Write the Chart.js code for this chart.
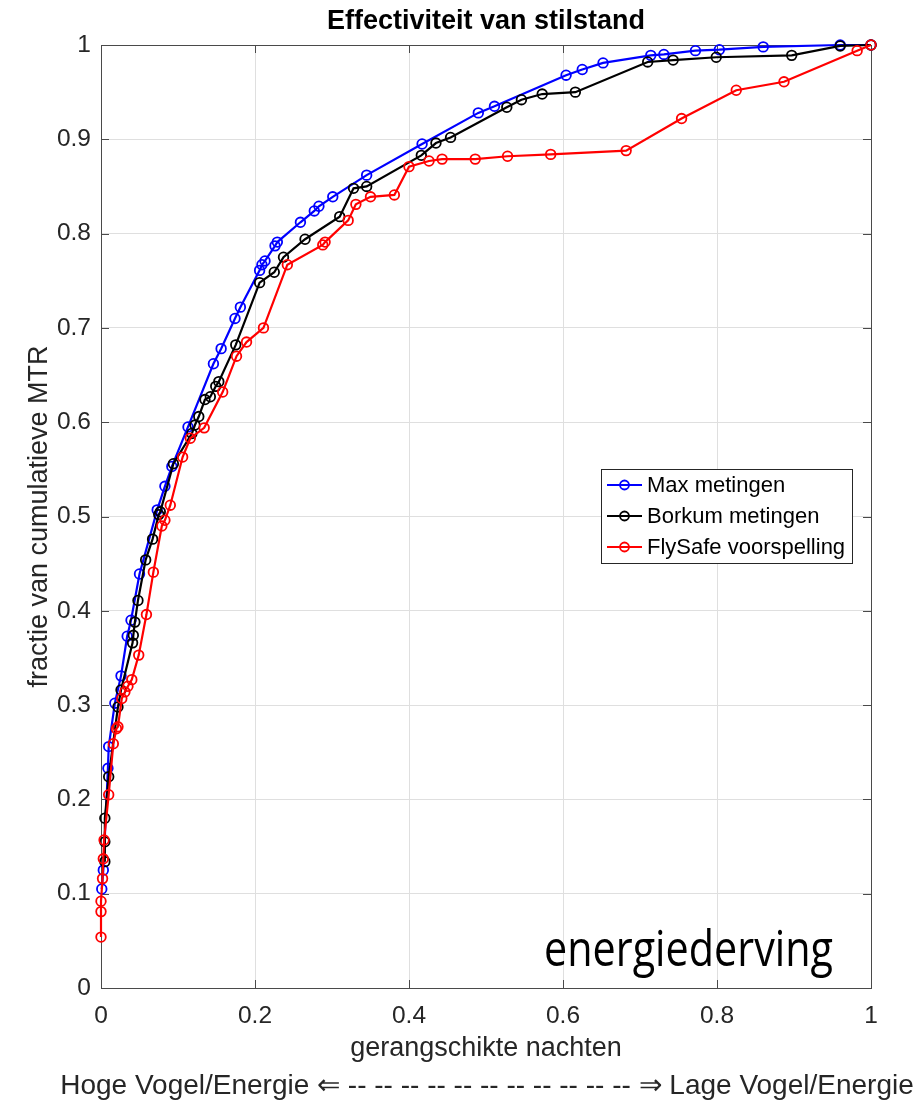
<!DOCTYPE html>
<html>
<head>
<meta charset="utf-8">
<script src="https://cdn.jsdelivr.net/npm/chart.js@4.4.1/dist/chart.umd.min.js"></script>
<style>
    html, body { margin: 0; padding: 0; background: #fff; }
    #wrap { width: 920px; height: 1100px; }
</style>
</head>
<body>
<div id="wrap"><canvas id="chart" width="920" height="1100"></canvas></div>
<script>
// tick labels
const xTicks = [0, 0.2, 0.4, 0.6, 0.8, 1];
const yTicks = [0, 0.1, 0.2, 0.3, 0.4, 0.5, 0.6, 0.7, 0.8, 0.9, 1];

const seriesNames = ['Max metingen', 'Borkum metingen', 'FlySafe voorspelling'];

// Max metingen
const maxX = [0.001, 0.003, 0.009, 0.010, 0.018, 0.026, 0.034, 0.039, 0.050, 0.073, 0.083, 0.092,
    0.113, 0.146, 0.156, 0.174, 0.181, 0.206, 0.209, 0.213, 0.226, 0.229, 0.259, 0.277, 0.283,
    0.301, 0.345, 0.417, 0.490, 0.511, 0.604, 0.625, 0.652, 0.714, 0.731, 0.772, 0.803, 0.860, 0.960, 1];
const maxY = [0.105, 0.125, 0.233, 0.256, 0.302, 0.331, 0.373, 0.390, 0.439, 0.507, 0.532, 0.553,
    0.595, 0.662, 0.678, 0.710, 0.722, 0.761, 0.767, 0.771, 0.787, 0.791, 0.812, 0.824, 0.829,
    0.839, 0.862, 0.895, 0.928, 0.935, 0.968, 0.974, 0.981, 0.989, 0.990, 0.994, 0.995, 0.998, 1.0, 1];

// Borkum metingen
const borkumX = [0.005, 0.005, 0.005, 0.010, 0.022, 0.026, 0.041, 0.042, 0.044, 0.048, 0.058, 0.067,
    0.075, 0.077, 0.094, 0.118, 0.122, 0.127, 0.135, 0.142, 0.149, 0.153, 0.175, 0.206, 0.225,
    0.237, 0.265, 0.310, 0.328, 0.345, 0.416, 0.435, 0.454, 0.527, 0.546, 0.573, 0.616, 0.710,
    0.743, 0.799, 0.897, 0.960, 1];
const borkumY = [0.134, 0.155, 0.180, 0.224, 0.298, 0.316, 0.366, 0.374, 0.388, 0.411, 0.454, 0.476,
    0.502, 0.505, 0.556, 0.588, 0.597, 0.606, 0.624, 0.627, 0.638, 0.643, 0.682, 0.748, 0.759,
    0.775, 0.794, 0.818, 0.848, 0.850, 0.883, 0.896, 0.902, 0.934, 0.942, 0.948, 0.950, 0.982,
    0.984, 0.987, 0.989, 0.999, 1];

// FlySafe voorspelling
const flyX = [0, 0, 0, 0.002, 0.003, 0.004, 0.010, 0.016, 0.020, 0.022, 0.027, 0.031, 0.035, 0.040,
    0.049, 0.059, 0.068, 0.079, 0.083, 0.090, 0.106, 0.116, 0.134, 0.158, 0.176, 0.189, 0.211,
    0.242, 0.288, 0.291, 0.321, 0.331, 0.350, 0.381, 0.400, 0.426, 0.443, 0.486, 0.528, 0.584,
    0.682, 0.754, 0.825, 0.887, 0.982, 1];
const flyY = [0.054, 0.081, 0.092, 0.116, 0.137, 0.157, 0.205, 0.259, 0.275, 0.277, 0.307, 0.314, 0.320, 0.327,
    0.353, 0.396, 0.441, 0.490, 0.496, 0.512, 0.563, 0.583, 0.594, 0.632, 0.670, 0.685, 0.700,
    0.767, 0.788, 0.791, 0.814, 0.831, 0.839, 0.841, 0.871, 0.877, 0.879, 0.879, 0.882, 0.884,
    0.888, 0.922, 0.952, 0.961, 0.994, 1];

const COLORS = ['#0000ff', '#000000', '#ff0000'];
const FONT = "'Liberation Sans', Arial, Helvetica, sans-serif";
const AXIS_COLOR = '#4a4a4a';
const TEXT_COLOR = '#262626';

Chart.defaults.font.family = FONT;

function toPoints(xs, ys) {
    return xs.map((x, i) => ({ x: x, y: ys[i] }));
}

function lineSet(i, xs, ys) {
    return {
        label: seriesNames[i],
        data: toPoints(xs, ys),
        showLine: true,
        borderColor: COLORS[i],
        backgroundColor: COLORS[i],
        borderWidth: 2.2,
        pointRadius: 4.8,
        pointHoverRadius: 4.8,
        pointBorderWidth: 1.8,
        pointBorderColor: COLORS[i],
        pointBackgroundColor: 'rgba(0,0,0,0)',
        tension: 0,
        clip: false,
        order: 3 - i
    };
}

// box, inward ticks, legend, annotation and the direction line under the x label
const framePlugin = {
    id: 'frame',
    beforeDatasetsDraw(chart) {
        const { ctx, chartArea: a, scales } = chart;
        ctx.save();
        ctx.strokeStyle = AXIS_COLOR;
        ctx.lineWidth = 1;
        ctx.beginPath();
        xTicks.forEach(v => {
            const px = Math.round(scales.x.getPixelForValue(v)) + 0.5;
            ctx.moveTo(px, a.bottom); ctx.lineTo(px, a.bottom - 8);
            ctx.moveTo(px, a.top); ctx.lineTo(px, a.top + 8);
        });
        yTicks.forEach(v => {
            const py = Math.round(scales.y.getPixelForValue(v)) + 0.5;
            ctx.moveTo(a.left, py); ctx.lineTo(a.left + 8, py);
            ctx.moveTo(a.right, py); ctx.lineTo(a.right - 8, py);
        });
        ctx.stroke();
        ctx.strokeRect(Math.round(a.left) + 0.5, Math.round(a.top) + 0.5,
            Math.round(a.right - a.left), Math.round(a.bottom - a.top));
        ctx.restore();
    },
    afterDatasetsDraw(chart) {
        const { ctx, chartArea: a } = chart;
        ctx.save();
        // legend
        const bx = 601, by = 469, bw = 251, bh = 94;
        ctx.fillStyle = '#fff';
        ctx.fillRect(bx, by, bw, bh);
        ctx.strokeStyle = '#262626';
        ctx.lineWidth = 1;
        ctx.strokeRect(bx + 0.5, by + 0.5, bw, bh);
        const rows = [485, 516, 547];
        seriesNames.forEach((name, i) => {
            const y = rows[i];
            ctx.strokeStyle = COLORS[i];
            ctx.lineWidth = 2.2;
            ctx.beginPath();
            ctx.moveTo(607, y); ctx.lineTo(642, y);
            ctx.stroke();
            ctx.lineWidth = 1.8;
            ctx.beginPath();
            ctx.arc(624.5, y, 4.5, 0, Math.PI * 2);
            ctx.stroke();
            ctx.fillStyle = '#000';
            ctx.font = '22px ' + FONT;
            ctx.textBaseline = 'middle';
            ctx.textAlign = 'left';
            ctx.fillText(name, 647, y + 1);
        });

        // direction line below the axis title
        ctx.fillStyle = TEXT_COLOR;
        ctx.font = '28px ' + FONT;
        ctx.textAlign = 'center';
        ctx.textBaseline = 'middle';
        ctx.fillText('Hoge Vogel/Energie \u21D0 -- -- -- -- -- -- -- -- -- -- -- \u21D2 Lage Vogel/Energie',
            (a.left + a.right) / 2 + 1, 1086);

        // annotation
        const label = 'energiederving';
        ctx.font = "50px 'Open Sans', 'Noto Sans', sans-serif";
        ctx.textAlign = 'left';
        ctx.textBaseline = 'alphabetic';
        const w = ctx.measureText(label).width;
        ctx.translate(544, 966);
        ctx.scale(289 / w, 1);
        ctx.fillStyle = '#000';
        ctx.fillText(label, 0, 0);
        ctx.restore();
    }
};

new Chart(document.getElementById('chart').getContext('2d'), {
    type: 'scatter',
    data: {
        datasets: [
            lineSet(0, maxX, maxY),
            lineSet(1, borkumX, borkumY),
            lineSet(2, flyX, flyY)
        ]
    },
    options: {
        responsive: false,
        animation: false,
        layout: { padding: { left: 0, right: 49, top: 0, bottom: 0 } },
        plugins: {
            legend: { display: false },
            tooltip: { enabled: false },
            title: {
                display: true,
                text: 'Effectiviteit van stilstand',
                fullSize: false,
                color: '#000',
                font: { size: 27, weight: 'bold', lineHeight: 1.2 },
                padding: { top: 5.5, bottom: 7.1 }
            }
        },
        scales: {
            x: {
                type: 'linear',
                min: 0,
                max: 1,
                afterBuildTicks: s => { s.ticks = xTicks.map(v => ({ value: v })); },
                afterFit: s => { s.height = 112; },
                grid: { color: '#dfdfdf', lineWidth: 1, drawTicks: false },
                border: { display: false },
                ticks: {
                    callback: v => String(v),
                    padding: 14,
                    color: TEXT_COLOR,
                    font: { size: 24.5 },
                    maxRotation: 0,
                    autoSkip: false
                },
                title: {
                    display: true,
                    text: 'gerangschikte nachten',
                    color: TEXT_COLOR,
                    font: { size: 27, lineHeight: 1.2 },
                    padding: { top: 0, bottom: 34.8 }
                }
            },
            y: {
                type: 'linear',
                min: 0,
                max: 1,
                afterBuildTicks: s => { s.ticks = yTicks.map(v => ({ value: v })); },
                afterFit: s => { s.width = 101; },
                grid: { color: '#dfdfdf', lineWidth: 1, drawTicks: false },
                border: { display: false },
                ticks: {
                    callback: v => String(v),
                    padding: 10,
                    color: TEXT_COLOR,
                    font: { size: 24.5 },
                    autoSkip: false
                },
                title: {
                    display: true,
                    text: 'fractie van cumulatieve MTR',
                    color: TEXT_COLOR,
                    font: { size: 27, lineHeight: 1.2 },
                    padding: { top: 23, bottom: 0 }
                }
            }
        }
    },
    plugins: [framePlugin]
});
</script>
</body>
</html>
